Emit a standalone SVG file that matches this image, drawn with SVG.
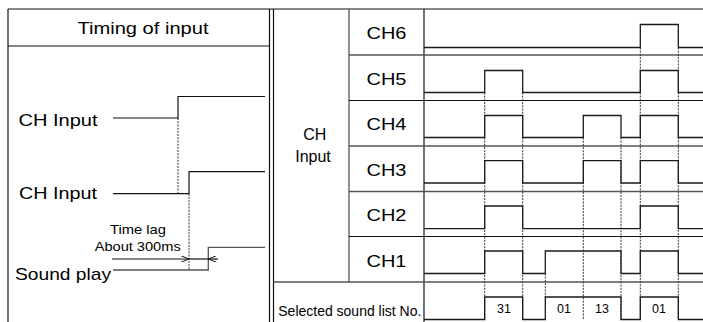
<svg xmlns="http://www.w3.org/2000/svg" width="703" height="322" viewBox="0 0 703 322">
<style>
.ln{stroke:#111;stroke-width:1.2;fill:none}
.gr{stroke:#555;stroke-width:1.3;fill:none}
.wv{stroke:#1a1a1a;stroke-width:1.3;fill:none}
.ds{stroke:#333;stroke-width:1;stroke-dasharray:2,1.2;fill:none}
text{font-family:"Liberation Sans",Arial,sans-serif;fill:#000}
.lb{font-size:17px}
.sm{font-size:13.5px}
.nm{font-size:12.5px;text-anchor:middle}
.ch{font-size:17px;text-anchor:middle}
</style>
<defs>
<marker id="arr" viewBox="0 0 10 8" refX="10" refY="4" markerWidth="8" markerHeight="6.4" markerUnits="userSpaceOnUse" orient="auto">
<path d="M0,0 L10,4 L0,8" fill="none" stroke="#111" stroke-width="1.2"/>
</marker>
</defs>
<g id="frame">
<line class="ln" x1="8" y1="9" x2="703" y2="9"/>
<line class="ln" x1="8" y1="9" x2="8" y2="322"/>
<line class="ln" x1="8" y1="46" x2="269.5" y2="46"/>
<line class="ln" x1="269.5" y1="9" x2="269.5" y2="322"/>
<line class="ln" x1="273.5" y1="9" x2="273.5" y2="322"/>
<line class="gr" x1="349" y1="9" x2="349" y2="282"/>
<line class="ln" x1="424" y1="9" x2="424" y2="322"/>
<line class="gr" x1="349" y1="55" x2="703" y2="55"/>
<line class="ln" x1="349" y1="100.5" x2="703" y2="100.5"/>
<line class="gr" x1="349" y1="146" x2="703" y2="146"/>
<line class="gr" x1="349" y1="191.5" x2="703" y2="191.5"/>
<line class="ln" x1="349" y1="236.5" x2="703" y2="236.5"/>
<line class="gr" x1="273.5" y1="282" x2="703" y2="282"/>
</g>
<g id="left-panel">
<text x="143" y="34" font-size="16" text-anchor="middle" textLength="131" lengthAdjust="spacingAndGlyphs">Timing of input</text>
<text class="lb" x="18.5" y="125.5" textLength="79" lengthAdjust="spacingAndGlyphs">CH Input</text>
<text class="lb" x="19" y="198.5" textLength="78" lengthAdjust="spacingAndGlyphs">CH Input</text>
<text class="sm" x="138" y="234" text-anchor="middle" textLength="56" lengthAdjust="spacingAndGlyphs">Time lag</text>
<text class="sm" x="94.7" y="250.7" textLength="86" lengthAdjust="spacingAndGlyphs">About 300ms</text>
<text class="lb" x="15" y="279.5" textLength="96" lengthAdjust="spacingAndGlyphs">Sound play</text>
</g>
<g id="connectors">
<path class="ds" d="M178,118 V193.7"/>
<path class="ds" d="M189,193.7 V270"/>
<path class="ln" d="M113,118 H178 V96.5 H265"/>
<path class="ln" d="M113,193.7 H189 V171.7 H265"/>
<path class="gr" d="M113,270 H208.3 V247.3 H265"/>
<line class="ln" x1="112" y1="259" x2="189" y2="259" marker-end="url(#arr)"/>
<line class="ln" x1="189" y1="259" x2="208.3" y2="259"/>
<line class="ln" x1="218" y1="259" x2="208.3" y2="259" marker-end="url(#arr)"/>
<path class="ds" d="M484.7,92.5 V320"/>
<path class="ds" d="M522.7,92.5 V320"/>
<path class="ds" d="M545.3,273.5 V297"/>
<path class="ds" d="M583.3,137.5 V320"/>
<path class="ds" d="M621,137.5 V320"/>
<path class="ds" d="M640.3,47.5 V320"/>
<path class="ds" d="M678.3,47.5 V320"/>
<path class="wv" d="M424,47.5 H640.3 V24.5 H678.3 V47.5 H703"/>
<path class="wv" d="M424,92.5 H484.7 V70.5 H522.7 V92.5 H640.3 V70.5 H678.3 V92.5 H703"/>
<path class="wv" d="M424,137.5 H484.7 V115.5 H522.7 V137.5 H583.3 V115.5 H621 V137.5 H640.3 V115.5 H678.3 V137.5 H703"/>
<path class="wv" d="M424,183 H484.7 V160.7 H522.7 V183 H583.3 V160.7 H621 V183 H640.3 V160.7 H678.3 V183 H703"/>
<path class="wv" d="M424,228.7 H484.7 V206 H522.7 V228.7 H640.3 V206 H678.3 V228.7 H703"/>
<path class="wv" d="M424,273.5 H484.7 V251 H522.7 V273.5 H545.3 V251 H621 V273.5 H640.3 V251 H678.3 V273.5 H703"/>
<path class="wv" d="M424,319.5 H484.7 V297 H522.7 V319.5 H545.3 V297 H621 V319.5 H640.3 V297 H678.3 V319.5 H703"/>
</g>
<g id="ch-labels">
<text class="ch" x="386.5" y="39" textLength="40" lengthAdjust="spacingAndGlyphs">CH6</text>
<text class="ch" x="386.5" y="84.5" textLength="40" lengthAdjust="spacingAndGlyphs">CH5</text>
<text class="ch" x="386.5" y="130" textLength="40" lengthAdjust="spacingAndGlyphs">CH4</text>
<text class="ch" x="386.5" y="175.5" textLength="40" lengthAdjust="spacingAndGlyphs">CH3</text>
<text class="ch" x="386.5" y="221" textLength="40" lengthAdjust="spacingAndGlyphs">CH2</text>
<text class="ch" x="386.5" y="266.5" textLength="40" lengthAdjust="spacingAndGlyphs">CH1</text>
</g>
<g id="ch-input-label">
<text x="314.8" y="140" font-size="16" text-anchor="middle">CH</text>
<text x="313" y="162" font-size="16" text-anchor="middle">Input</text>
</g>
<g id="sound-list">
<text x="278.3" y="316" font-size="14" textLength="143" lengthAdjust="spacingAndGlyphs">Selected sound list No.</text>
<text class="nm" x="504" y="312.7">31</text>
<text class="nm" x="564" y="312.7">01</text>
<text class="nm" x="602" y="312.7">13</text>
<text class="nm" x="659" y="312.7">01</text>
</g>
</svg>
